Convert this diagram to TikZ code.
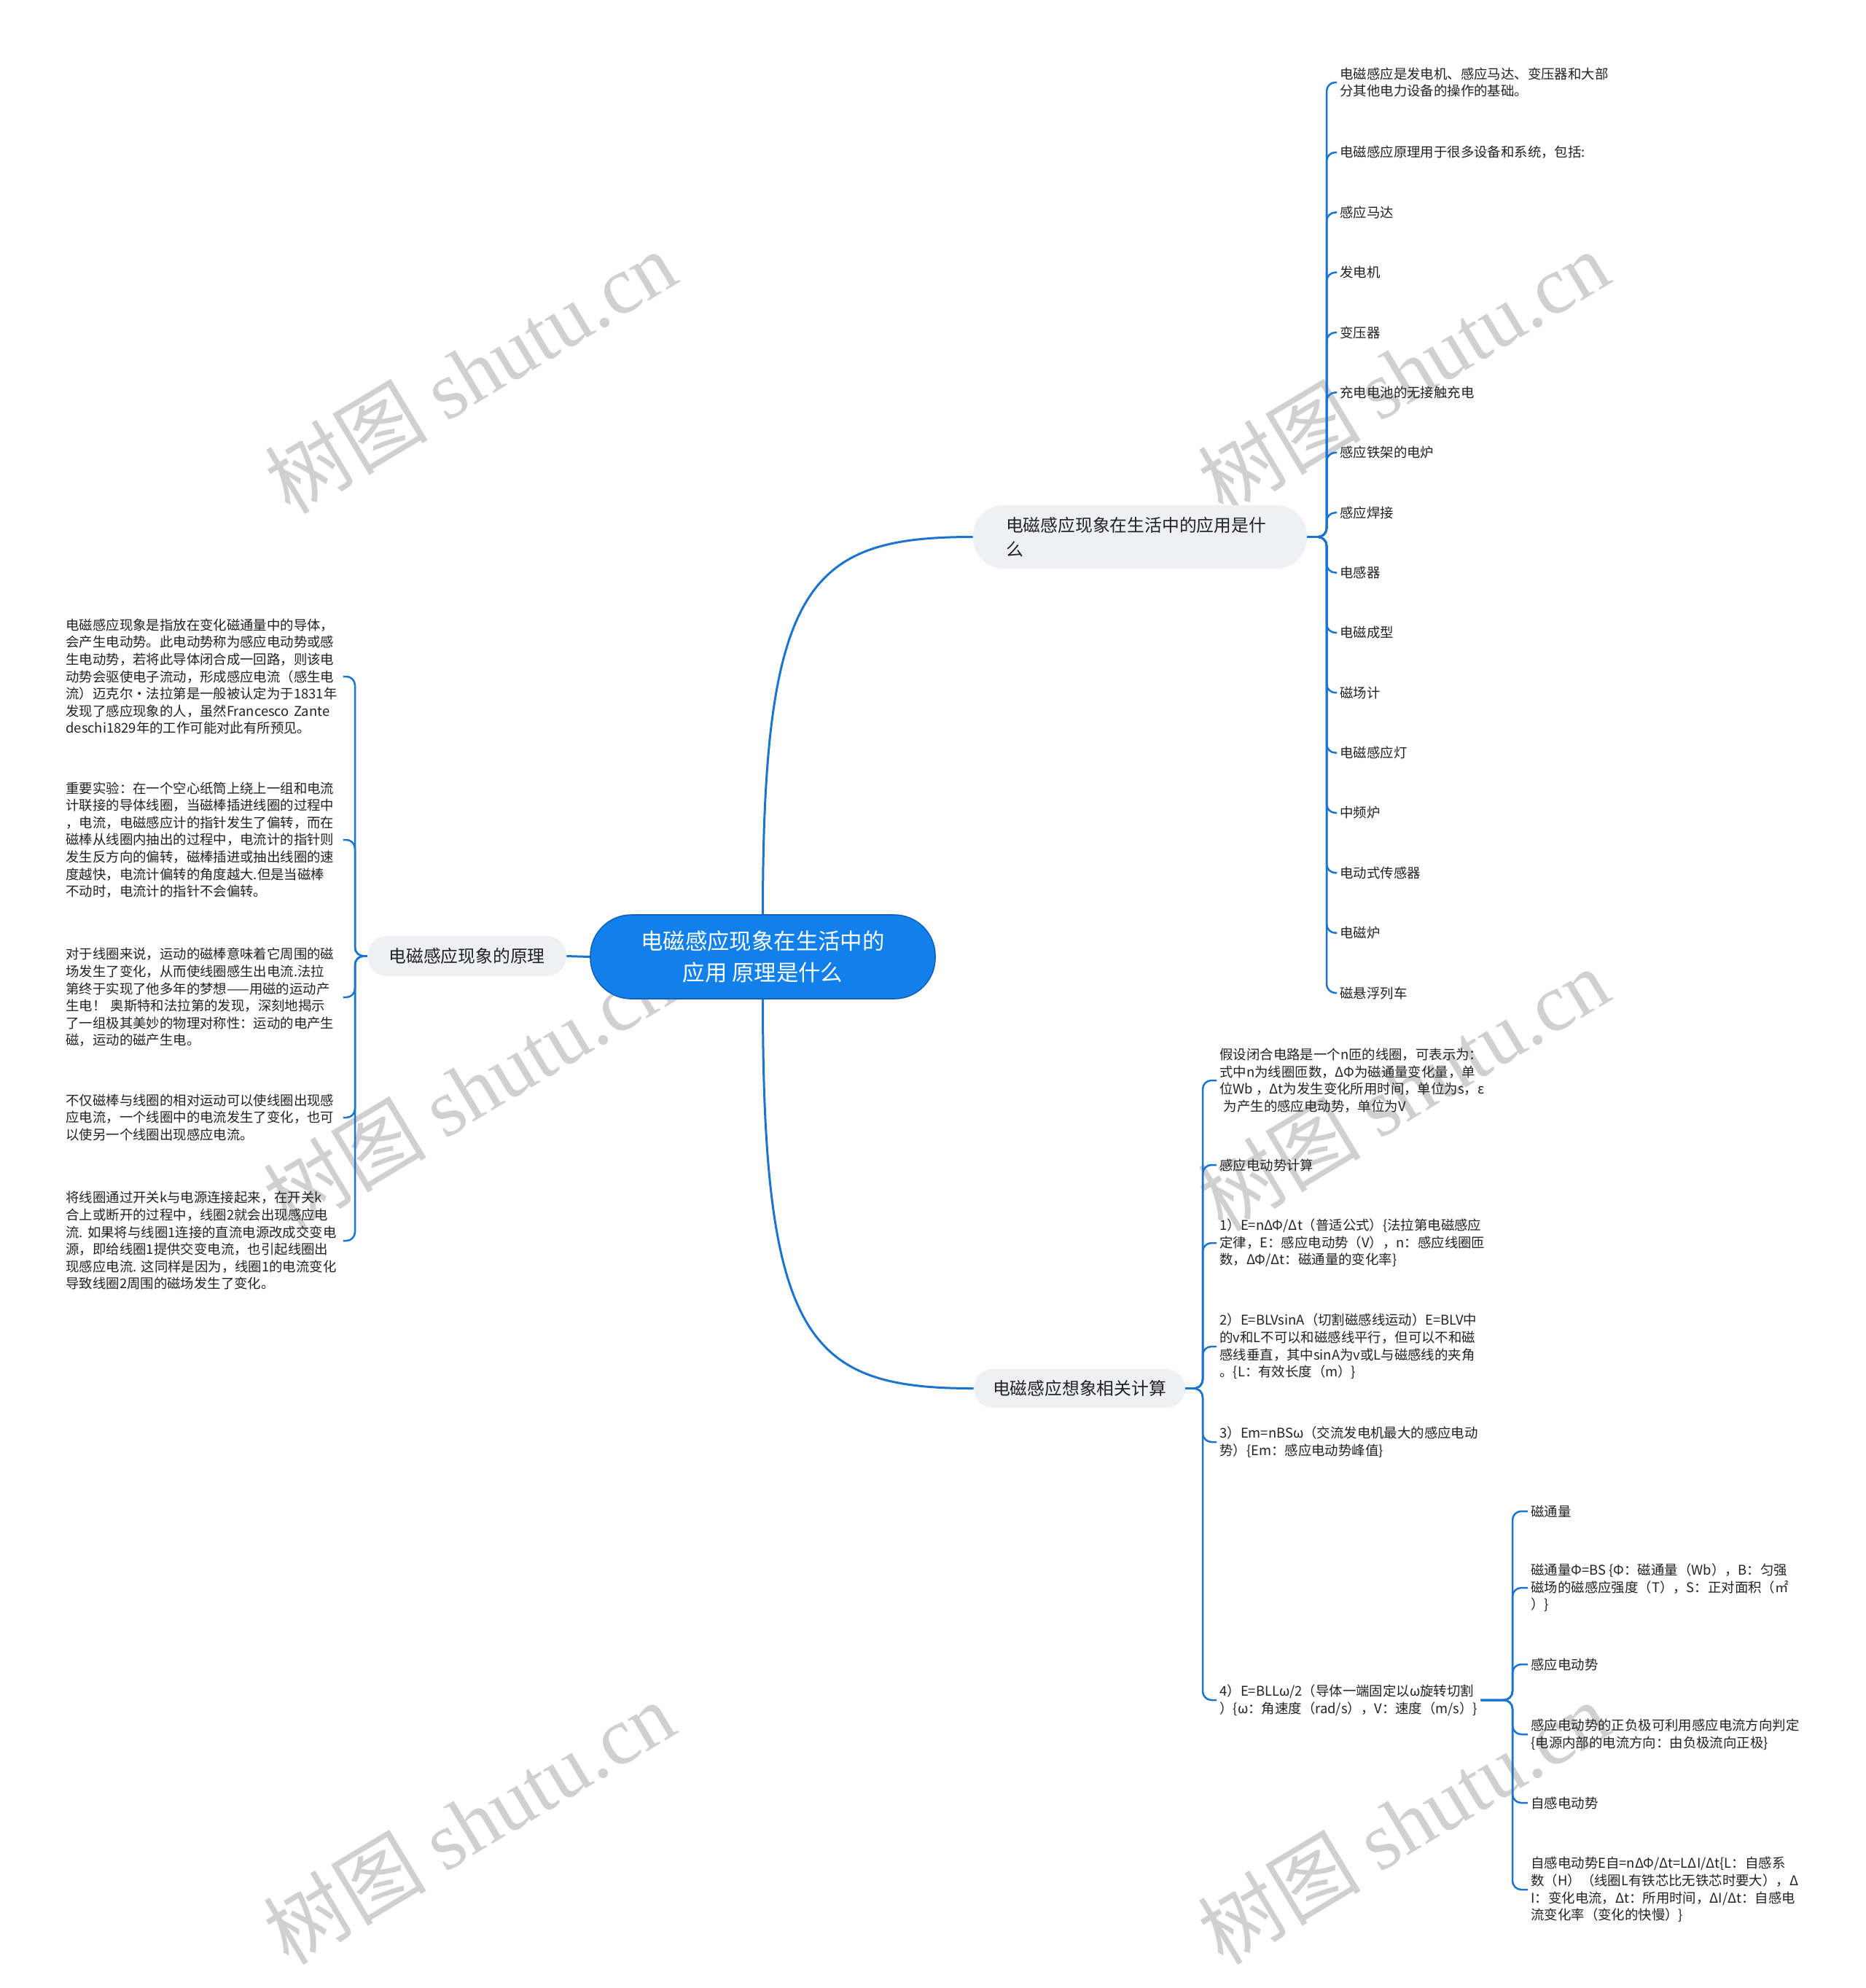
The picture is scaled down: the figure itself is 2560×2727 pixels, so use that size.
\documentclass[tikz,border=0pt]{standalone}
\usepackage{fontspec}
\setmainfont{Noto Sans CJK SC}
\newfontfamily\wmlat{Liberation Serif}
\definecolor{linec}{RGB}{27,117,208}
\definecolor{txt}{RGB}{34,34,34}
\definecolor{mainfill}{RGB}{238,240,244}
\definecolor{centerfill}{RGB}{18,128,234}
\definecolor{centerdraw}{RGB}{14,98,190}
\definecolor{wmc}{RGB}{208,208,208}
\begin{document}
\begin{tikzpicture}[x=0.5pt,y=-0.5pt,
  conn/.style={draw=linec,line width=1.25pt,rounded corners=6pt},
  mconn/.style={draw=linec,line width=1.5pt},
  leaf/.style={font=\fontsize{9.2pt}{11.8pt}\selectfont,text=txt,align=left,inner xsep=2pt,inner ysep=1pt,anchor=west},
  lleaf/.style={leaf,text width=188pt},
  topic/.style={fill=mainfill,font=\fontsize{11.9pt}{16.7pt}\selectfont,text=txt},
  wm/.style={text=wmc,rotate=31,inner sep=0pt,font=\fontsize{56pt}{58pt}\selectfont}
]
\useasboundingbox (0,0) rectangle (2560,2727);
\fill[white] (0,0) rectangle (2560,2727);

% watermarks
\node[wm] (w1) at (645,510) {树图 {\wmlat shutu.cn}};
\node[wm] (w2) at (1925,510) {树图 {\wmlat shutu.cn}};
\node[wm] (w3) at (643,1494) {树图 {\wmlat shutu.cn}};
\node[wm] (w4) at (1925,1494) {树图 {\wmlat shutu.cn}};
\node[wm] (w5) at (643,2500) {树图 {\wmlat shutu.cn}};
\node[wm] (w6) at (1925,2500) {树图 {\wmlat shutu.cn}};

% central and main topics
\node[draw=centerdraw,line width=0.8pt,fill=centerfill,text=white,rounded corners=28pt,
  minimum width=236.5pt,minimum height=57.5pt,align=center,
  font=\fontsize{15.2pt}{21.7pt}\selectfont] (cn) at (1046.5,1312.5) {电磁感应现象在生活中的\\应用 原理是什么};
\node[topic,rounded corners=21pt,minimum height=43.5pt,text width=184pt,inner xsep=22.5pt,align=left] (m1) at (1564,736.5) {电磁感应现象在生活中的应用是什\\么};
\node[topic,rounded corners=13.5pt,minimum width=136.5pt,minimum height=27.5pt] (m2) at (640.5,1311.5) {电磁感应现象的原理};
\node[topic,rounded corners=13pt,minimum width=145pt,minimum height=26.5pt] (m3) at (1481,1904.5) {电磁感应想象相关计算};

\draw[mconn] (cn.north) .. controls (1046.5,800) and (1110,736.5) .. (m1.west);
\draw[mconn] (cn.south) .. controls (1046.5,1840) and (1110,1904.5) .. (m3.west);
\draw[mconn] (cn.west) -- (m2.east);

% applications
\node[leaf] (a1) at (1834,113) {电磁感应是发电机、感应马达、变压器和大部\\分其他电力设备的操作的基础。};
\node[leaf] (a2) at (1834,209) {电磁感应原理用于很多设备和系统，包括:};
\node[leaf] (a3) at (1834,291.4) {感应马达};
\node[leaf] (a4) at (1834,373.7) {发电机};
\node[leaf] (a5) at (1834,456.1) {变压器};
\node[leaf] (a6) at (1834,538.4) {充电电池的无接触充电};
\node[leaf] (a7) at (1834,620.8) {感应铁架的电炉};
\node[leaf] (a8) at (1834,703.2) {感应焊接};
\node[leaf] (a9) at (1834,785.5) {电感器};
\node[leaf] (a10) at (1834,867.9) {电磁成型};
\node[leaf] (a11) at (1834,950.2) {磁场计};
\node[leaf] (a12) at (1834,1032.6) {电磁感应灯};
\node[leaf] (a13) at (1834,1115) {中频炉};
\node[leaf] (a14) at (1834,1197.3) {电动式传感器};
\node[leaf] (a15) at (1834,1279.7) {电磁炉};
\node[leaf] (a16) at (1834,1362) {磁悬浮列车};
\foreach \i in {1,...,16} \draw[conn] (m1.east) -- (1820,736.5) |- (a\i.west);

% principle (left)
\node[lleaf] (l1) at (86,928) {电磁感应现象是指放在变化磁通量中的导体，\\会产生电动势。此电动势称为感应电动势或感\\生电动势，若将此导体闭合成一回路，则该电\\动势会驱使电子流动，形成感应电流（感生电\\流）迈克尔·法拉第是一般被认定为于1831年\\发现了感应现象的人，虽然Francesco~Zante\\deschi1829年的工作可能对此有所预见。};
\node[lleaf] (l2) at (86,1152) {重要实验：在一个空心纸筒上绕上一组和电流\\计联接的导体线圈，当磁棒插进线圈的过程中\\，电流，电磁感应计的指针发生了偏转，而在\\磁棒从线圈内抽出的过程中，电流计的指针则\\发生反方向的偏转，磁棒插进或抽出线圈的速\\度越快，电流计偏转的角度越大.但是当磁棒\\不动时，电流计的指针不会偏转。};
\node[lleaf] (l3) at (86,1368) {对于线圈来说，运动的磁棒意味着它周围的磁\\场发生了变化，从而使线圈感生出电流.法拉\\第终于实现了他多年的梦想——用磁的运动产\\生电！~奥斯特和法拉第的发现，深刻地揭示\\了一组极其美妙的物理对称性：运动的电产生\\磁，运动的磁产生电。};
\node[lleaf] (l4) at (86,1533) {不仅磁棒与线圈的相对运动可以使线圈出现感\\应电流，一个线圈中的电流发生了变化，也可\\以使另一个线圈出现感应电流。};
\node[lleaf] (l5) at (86,1702) {将线圈通过开关k与电源连接起来，在开关k\\合上或断开的过程中，线圈2就会出现感应电\\流.~如果将与线圈1连接的直流电源改成交变电\\源，即给线圈1提供交变电流，也引起线圈出\\现感应电流.~这同样是因为，线圈1的电流变化\\导致线圈2周围的磁场发生了变化。};
\foreach \i in {1,...,5} \draw[conn] (m2.west) -- (487,1311.5) |- (l\i.east);

% calculation
\node[leaf] (c1) at (1669,1482) {假设闭合电路是一个n匝的线圈，可表示为：\\式中n为线圈匝数，ΔΦ为磁通量变化量，单\\位Wb~，Δt为发生变化所用时间，单位为s，ε\\\hspace{0.3em}为产生的感应电动势，单位为V};
\node[leaf] (c2) at (1669,1598) {感应电动势计算};
\node[leaf] (c3) at (1669,1705) {1）E=nΔΦ/Δt（普适公式）\{法拉第电磁感应\\定律，E：感应电动势（V），n：感应线圈匝\\数，ΔΦ/Δt：磁通量的变化率\}};
\node[leaf] (c4) at (1669,1847) {2）E=BLVsinA（切割磁感线运动）E=BLV中\\的v和L不可以和磁感线平行，但可以不和磁\\感线垂直，其中sinA为v或L与磁感线的夹角\\。\{L：有效长度（m）\}};
\node[leaf] (c5) at (1669,1978) {3）Em=nBSω（交流发电机最大的感应电动\\势）\{Em：感应电动势峰值\}};
\node[leaf] (c6) at (1669,2332) {4）E=BLLω/2（导体一端固定以ω旋转切割\\）\{ω：角速度（rad/s），V：速度（m/s）\}};
\foreach \i in {1,...,6} \draw[conn] (m3.east) -- (1650,1904.5) |- (c\i.west);

\node[leaf] (d1) at (2096,2073) {磁通量};
\node[leaf] (d2) at (2096,2178) {磁通量Φ=BS~\{Φ：磁通量（Wb），B：匀强\\磁场的磁感应强度（T），S：正对面积（㎡\\）\}};
\node[leaf] (d3) at (2096,2283) {感应电动势};
\node[leaf] (d4) at (2096,2379) {感应电动势的正负极可利用感应电流方向判定\\\{电源内部的电流方向：由负极流向正极\}};
\node[leaf] (d5) at (2096,2473) {自感电动势};
\node[leaf] (d6) at (2096,2592) {自感电动势E自=nΔΦ/Δt=LΔI/Δt\{L：自感系\\数（H）（线圈L有铁芯比无铁芯时要大），Δ\\I：变化电流，Δt：所用时间，ΔI/Δt：自感电\\流变化率（变化的快慢）\}};
\foreach \i in {1,...,6} \draw[conn] (c6.east) -- (2075,2332) |- (d\i.west);
\end{tikzpicture}
\end{document}
